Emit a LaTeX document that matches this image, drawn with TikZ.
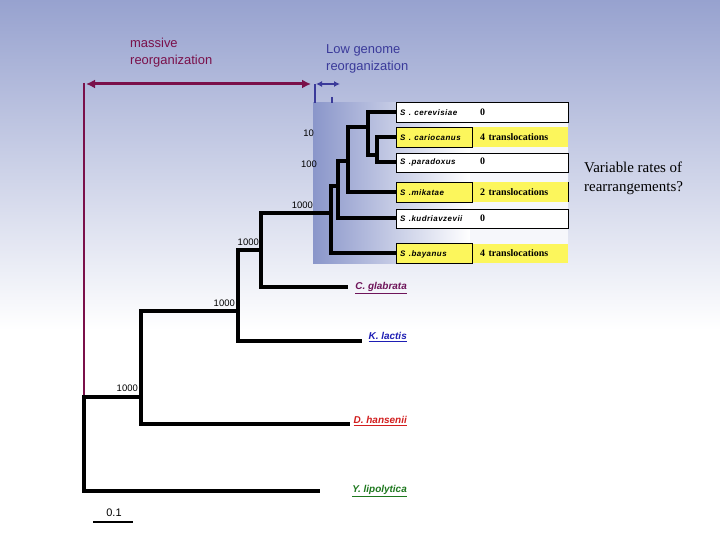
\documentclass[tikz,border=0pt]{standalone}
\usepackage{fontspec}
\setmainfont{Liberation Serif}
\setsansfont{Liberation Sans}
\newfontfamily\spfont{Liberation Sans}[LetterSpace=6]
\usetikzlibrary{arrows.meta}

\definecolor{fondo}{RGB}{151,162,207}
\definecolor{caja}{RGB}{138,150,202}
\definecolor{morado}{RGB}{122,16,74}
\definecolor{azul}{RGB}{58,58,154}
\definecolor{amarillo}{RGB}{252,246,92}
\definecolor{glab}{RGB}{110,20,90}
\definecolor{lactis}{RGB}{30,30,180}
\definecolor{hans}{RGB}{210,30,30}
\definecolor{lipo}{RGB}{30,120,30}

\newcommand{\spname}[1]{{\spfont\itshape\fontsize{8}{9}\selectfont #1}}

\begin{document}
\begin{tikzpicture}[x=1bp, y=-1bp,
    rama/.style={line width=4bp, line join=miter, line cap=rect},
    boot/.style={font=\sffamily\fontsize{9.5}{10}\selectfont, anchor=east, inner sep=0pt},
    fila/.style={anchor=west, minimum width=172bp, minimum height=19.5bp, inner sep=4bp,
      text width=164bp, align=left, font=\bfseries\fontsize{10}{11}\selectfont},
    blanca/.style={fila, draw, thin, fill=white},
    amar/.style={fila, fill=amarillo},
    especie/.style={anchor=east, inner sep=0pt, font=\sffamily\bfseries\itshape\fontsize{10}{11}\selectfont}]

    % Fondo
    \useasboundingbox (0,0) rectangle (720,540);
    \shade[top color=fondo, bottom color=white] (0,0) rectangle (720,330);
    \fill[white] (0,330) rectangle (720,540);

    % Zona sombreada de Saccharomyces
    \shade[left color=caja, right color=white] (313,103) rectangle (470,263);
    \fill[caja!8] (470,103) rectangle (568,263);

    % Flechas y textos de arriba
    \node[font=\sffamily\fontsize{13}{17}\selectfont, text=morado, align=left, anchor=north west, inner sep=0pt] (masiva) at (130,38) {massive\\reorganization};
    \node[font=\sffamily\fontsize{13}{17}\selectfont, text=azul, align=left, anchor=north west, inner sep=0pt] (baja) at (326,44) {Low genome\\reorganization};
    \coordinate (mI) at (86,84);
    \coordinate (mD) at (311,84);
    \coordinate (mtop) at (84,83);
    \coordinate (bI) at (316,84);
    \coordinate (bD) at (340,84);
    \draw[morado, line width=3bp, {Latex[length=9bp,width=9bp]}-{Latex[length=9bp,width=9bp]}] (mI) -- (mD);
    \draw[azul, line width=1.5bp, {Latex[length=6bp,width=6bp]}-{Latex[length=6bp,width=6bp]}] (bI) -- (bD);
    \draw[azul, line width=1.5bp] (315,84) -- (315,103);
    \draw[azul, line width=1.5bp] (332,97) -- (332,103);

    % Nodos internos del arbol
    \coordinate (raiz) at (84,397);
    \coordinate (n1) at (141,397);
    \coordinate (n2) at (238,311);
    \coordinate (n3) at (261,250);
    \coordinate (n4) at (331,213);
    \coordinate (n5) at (338,186);
    \coordinate (n6) at (348,161);
    \coordinate (n7) at (368,127);
    \coordinate (n8) at (377,155);

    % Puntas de las ramas
    \coordinate (lipof) at (318,491);
    \coordinate (hansf) at (348,424);
    \coordinate (lactf) at (360,341);
    \coordinate (glabf) at (346,287);
    \coordinate (cer) at (396,112);
    \coordinate (car) at (396,137);
    \coordinate (par) at (396,162.5);
    \coordinate (mik) at (396,192);
    \coordinate (kud) at (396,218.5);
    \coordinate (bay) at (396,253.5);

    % Linea morada hasta la raiz
    \draw[morado, line width=1.6bp] (mtop) -- (raiz);

    % Ramas
    \draw[rama] (raiz) |- (n1) (raiz) |- (lipof);
    \draw[rama] (n1) |- (n2) (n1) |- (hansf);
    \draw[rama] (n2) |- (n3) (n2) |- (lactf);
    \draw[rama] (n3) |- (n4) (n3) |- (glabf);
    \draw[rama] (n4) |- (n5) (n4) |- (bay);
    \draw[rama] (n5) |- (n6) (n5) |- (kud);
    \draw[rama] (n6) |- (n7) (n6) |- (mik);
    \draw[rama] (n7) |- (cer) (n7) |- (n8);
    \draw[rama] (n8) |- (car) (n8) |- (par);

    % Valores de bootstrap
    \node[boot] (b1) at (138,388) {1000};
    \node[boot] (b2) at (235,303) {1000};
    \node[boot] (b3) at (259,242) {1000};
    \node[boot] (b4) at (313,205) {1000};
    \node[boot] (b5) at (317,164) {100};
    \node[boot] (b6) at (314,133) {10};

    % Cajas de las especies
    \node[blanca] (cerbox) at (cer) {\makebox[80bp][l]{\spname{S . cerevisiae}}0};
    \node[amar] (carbox) at (car) {\makebox[80bp][l]{\spname{S . cariocanus}}4 translocations};
    \node[blanca] (parbox) at (par) {\makebox[80bp][l]{\spname{S .paradoxus}}0};
    \node[amar] (mikbox) at (mik) {\makebox[80bp][l]{\spname{S .mikatae}}2 translocations};
    \node[blanca] (kudbox) at (kud) {\makebox[80bp][l]{\spname{S .kudriavzevii}}0};
    \node[amar] (baybox) at (bay) {\makebox[80bp][l]{\spname{S .bayanus}}4 translocations};
    \draw[thin] (carbox.north west) rectangle ([xshift=76bp]carbox.south west);
    \draw[thin] (mikbox.north west) rectangle ([xshift=76bp]mikbox.south west);
    \draw[thin] (mikbox.north east) -- (mikbox.south east);
    \draw[thin] (baybox.north west) rectangle ([xshift=76bp]baybox.south west);

    % Otras levaduras
    \node[especie, text=glab] (glabl) at (407,288) {\underline{C. glabrata}};
    \node[especie, text=lactis] (lactl) at (407,337) {\underline{K. lactis}};
    \node[especie, text=hans] (hansl) at (407,421) {\underline{D. hansenii}};
    \node[especie, text=lipo] (lipol) at (407,491) {\underline{Y. lipolytica}};

    % Pregunta
    \node[font=\fontsize{15}{19}\selectfont, align=left, anchor=west, inner sep=0pt] (pregunta) at (584,178) {Variable rates of\\rearrangements?};

    % Escala
    \coordinate (e0) at (93,522);
    \coordinate (e1) at (133,522);
    \draw[line width=1.5bp] (e0) -- (e1);
    \node[font=\sffamily\fontsize{11}{12}\selectfont, inner sep=0pt] (escala) at (114,513) {0.1};
\end{tikzpicture}
\end{document}
